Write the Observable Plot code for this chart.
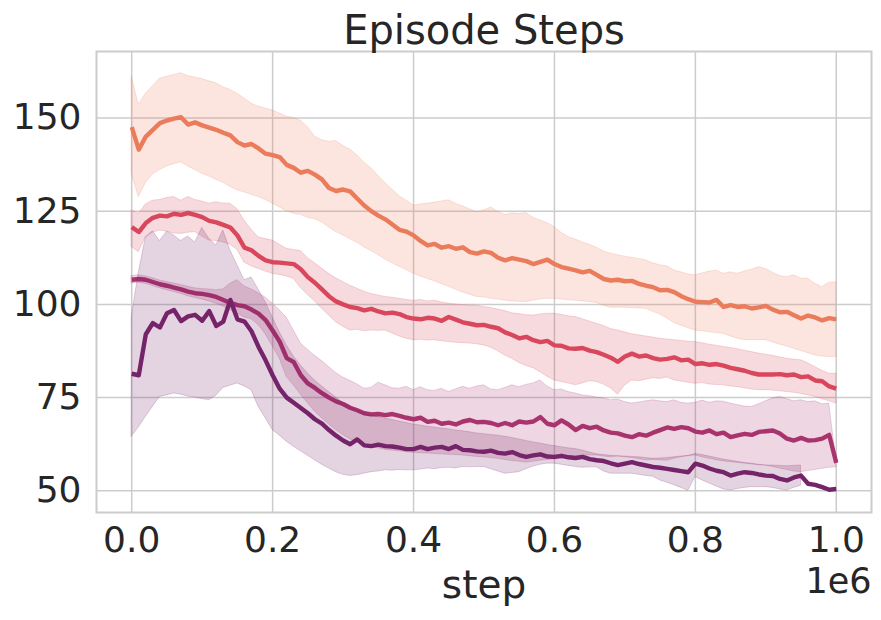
<!DOCTYPE html>
<html>
<head>
<meta charset="utf-8">
<script src="https://cdn.jsdelivr.net/npm/d3@7"></script>
<script src="https://cdn.jsdelivr.net/npm/@observablehq/plot@0.6"></script>
<style>
  html, body { margin: 0; padding: 0; background: #ffffff; }
  #chart svg { display: block; }
</style>
</head>
<body>
<div id="chart"></div>
<script>
// x positions (environment steps)
const steps = [0,10000,20000,30000,40000,50000,60000,70000,80000,90000,
100000,110000,120000,130000,140000,150000,160000,170000,180000,190000,
200000,210000,220000,230000,240000,250000,260000,270000,280000,290000,
300000,310000,320000,330000,340000,350000,360000,370000,380000,390000,
400000,410000,420000,430000,440000,450000,460000,470000,480000,490000,
500000,510000,520000,530000,540000,550000,560000,570000,580000,590000,
600000,610000,620000,630000,640000,650000,660000,670000,680000,690000,
700000,710000,720000,730000,740000,750000,760000,770000,780000,790000,
800000,810000,820000,830000,840000,850000,860000,870000,880000,890000,
900000,910000,920000,930000,940000,950000,960000,970000,980000,990000,
1000000];

const seriesNames = ["A", "B", "C", "D"];
const seriesColors = ["#ea7b5b", "#d9475c", "#a8336d", "#762469"];

const xTicks = [0, 200000, 400000, 600000, 800000, 1000000];
const yTicks = [50, 75, 100, 125, 150];

// Series A (orange)
const aMean = [147.5,141.5,145.0,146.8,148.6,149.3,149.8,150.2,148.2,148.8,
148.0,147.4,146.8,146.0,145.3,143.5,142.6,143.0,141.8,140.4,
140.0,139.5,137.4,136.6,135.3,135.8,134.8,133.5,131.2,130.4,
130.8,130.3,128.4,126.5,125.0,123.8,122.8,121.4,120.0,119.5,
118.5,117.0,115.8,116.2,115.2,115.6,114.9,115.3,114.0,113.6,
114.2,113.8,112.5,111.8,112.4,112.0,111.6,110.8,111.4,112.0,
110.8,110.0,109.6,109.1,108.6,109.0,107.9,106.8,106.4,106.6,
106.2,106.3,105.5,105.0,104.6,103.8,103.9,103.3,102.2,101.4,
100.7,100.6,100.5,101.2,99.3,99.8,99.3,99.5,98.9,99.2,
99.6,98.6,97.9,98.0,97.1,96.2,97.0,96.5,95.7,96.3,
96.0];
const aHi = [161.0,153.5,156.5,158.5,160.5,161.0,161.5,162.0,161.2,160.8,
160.4,159.8,159.3,158.2,157.5,156.5,155.2,153.8,153.0,152.5,
152.0,151.2,150.3,150.0,149.2,147.5,145.0,144.0,143.6,143.8,
142.5,141.5,140.0,138.0,136.5,134.5,132.5,130.8,129.0,127.8,
126.5,126.8,127.0,127.3,127.6,127.9,127.0,126.3,125.5,124.7,
125.2,126.0,124.8,124.0,124.4,124.2,124.5,123.2,122.5,121.8,
120.7,119.2,118.0,117.4,116.6,116.0,115.2,114.2,113.6,113.2,
112.8,112.5,112.2,111.8,111.0,110.5,110.2,109.1,108.6,108.0,
107.8,108.3,108.8,109.1,108.2,108.6,108.2,108.8,109.3,110.0,
109.5,108.5,107.6,107.3,107.8,106.9,106.9,105.5,104.6,105.8,
105.9];
const aLo = [135.0,128.8,132.5,134.8,136.0,137.0,137.6,138.1,137.0,136.0,
135.0,134.3,133.4,132.6,131.5,130.6,130.0,129.4,128.8,128.0,
127.0,126.0,124.9,124.3,124.0,123.2,122.8,122.0,120.6,119.4,
118.5,117.5,116.5,115.3,114.3,113.2,112.0,111.0,110.1,109.2,
108.2,107.5,106.8,106.2,105.4,104.7,103.9,103.2,102.6,102.0,
101.9,101.5,101.3,101.0,100.8,100.7,100.6,101.0,101.3,101.5,
101.5,101.3,101.1,101.0,100.8,100.6,100.4,99.6,99.1,99.1,
99.1,99.0,98.9,98.8,98.0,97.3,96.2,95.0,94.3,93.6,
93.0,92.8,92.5,92.3,92.1,91.4,90.8,90.4,90.4,90.4,
90.4,89.8,89.2,88.7,88.1,87.5,86.9,86.3,86.0,85.9,
85.9];

// Series B (red)
const bMean = [120.7,119.4,121.8,123.2,123.8,123.6,124.3,124.0,124.5,124.0,
123.4,122.4,122.0,121.3,120.6,118.5,115.2,114.5,113.0,111.8,
111.3,111.2,111.0,110.8,109.4,107.3,105.8,104.0,102.2,100.8,
100.0,99.3,99.0,98.4,98.8,98.1,97.6,97.8,97.4,96.6,
96.2,96.0,96.4,96.2,95.6,96.6,95.9,95.2,94.8,94.4,
94.5,94.0,93.6,92.5,91.8,90.9,91.3,90.4,89.9,90.2,
89.0,88.9,88.2,88.1,88.3,87.6,87.2,86.5,85.7,84.6,
86.0,86.8,86.0,86.3,85.6,85.2,85.4,85.8,85.0,85.2,
84.0,84.2,83.8,84.0,83.6,83.0,82.6,82.2,81.6,81.2,
81.2,81.2,81.3,81.0,81.2,80.5,80.7,79.6,79.4,78.0,
77.4];
const bHi = [125.2,124.3,126.8,127.8,128.0,128.5,128.8,127.8,128.8,128.0,
127.6,127.0,127.4,127.0,127.0,125.5,122.5,120.0,118.0,117.5,
117.1,116.0,114.9,114.6,114.3,112.4,111.0,109.6,108.2,107.0,
106.0,105.0,104.2,103.4,102.8,102.4,102.0,101.8,101.5,101.2,
101.0,101.2,100.8,101.0,100.5,100.2,100.0,99.8,99.7,99.6,
99.3,99.0,98.6,98.2,97.6,97.4,97.1,97.0,97.3,97.5,
97.5,97.2,96.8,96.6,96.0,95.4,94.8,94.2,93.4,93.0,
92.5,92.0,91.7,91.4,91.1,90.8,90.6,90.4,90.2,90.0,
89.9,89.6,89.2,88.9,88.6,88.3,88.0,87.6,87.2,86.8,
86.5,86.2,85.8,85.4,85.2,85.0,84.2,83.2,82.2,81.4,
81.4];
const bLo = [115.4,114.0,118.0,119.2,119.8,119.5,119.0,118.9,119.2,119.4,
118.2,117.1,117.0,116.6,116.0,114.6,111.2,110.2,109.5,108.8,
108.2,107.9,107.5,106.8,104.4,102.5,100.8,98.8,97.0,95.2,
94.0,93.0,93.2,92.8,93.0,92.9,93.0,92.2,91.4,90.8,
90.4,90.5,90.3,90.4,90.1,89.9,89.7,89.6,89.5,89.3,
89.0,88.4,87.4,86.3,85.4,84.3,83.5,82.9,81.8,80.6,
79.6,79.2,78.8,78.3,78.8,79.4,79.2,78.5,77.5,75.8,
78.2,79.6,79.4,79.8,80.2,80.0,80.4,79.6,79.3,79.0,
78.7,78.9,78.5,78.4,78.3,78.0,77.8,77.5,77.2,77.0,
77.0,76.9,76.7,76.5,76.3,76.0,75.6,75.2,74.6,74.0,
73.4];

// Series C (magenta)
const cMean = [106.6,106.8,106.6,106.0,105.4,105.0,104.5,104.0,103.4,103.0,
102.8,102.5,102.0,101.2,100.4,99.8,99.5,98.6,97.5,95.8,
93.0,90.0,85.6,84.5,81.0,78.8,77.6,76.2,75.0,74.0,
73.3,72.3,71.6,70.8,70.5,70.6,70.3,70.6,70.1,69.6,
69.2,69.6,68.5,68.8,68.0,68.3,67.8,68.6,69.0,68.4,
68.5,68.2,67.6,68.2,67.6,68.6,68.3,68.6,69.8,68.0,
67.6,68.9,67.8,66.3,67.4,66.8,67.2,66.2,65.6,65.4,
64.8,64.4,65.2,64.8,65.6,66.3,67.0,66.6,67.1,66.8,
65.9,65.6,66.2,65.2,65.6,64.4,64.9,65.3,65.0,65.8,
66.0,66.2,65.4,64.0,63.5,64.2,63.5,63.6,64.0,65.0,
57.5];
const cHi = [107.6,107.8,107.5,107.0,106.4,106.0,105.6,105.2,104.7,104.3,
104.1,104.0,103.8,104.0,105.5,106.5,104.8,104.0,103.0,101.8,
100.2,98.4,96.4,93.0,89.5,87.8,86.2,84.8,83.2,81.6,
80.4,79.5,78.6,77.4,77.6,79.0,78.3,77.5,77.4,77.9,
77.0,77.8,77.0,76.8,77.4,76.5,77.2,77.9,77.4,78.0,
78.3,77.2,77.0,77.6,78.3,77.8,78.4,78.8,79.6,78.0,
77.0,77.2,76.5,76.1,75.6,75.4,75.0,74.8,74.3,74.5,
73.8,73.4,73.7,74.0,74.3,74.0,73.8,74.3,73.6,73.4,
73.6,74.2,73.6,74.0,73.9,73.4,73.0,72.6,72.5,73.2,
74.0,74.8,75.2,74.6,74.0,74.3,73.8,74.0,73.2,73.4,
58.2];
const cLo = [105.6,105.8,105.5,104.9,104.3,103.8,103.3,102.8,102.2,101.7,
101.3,100.8,100.2,99.4,98.4,97.5,96.5,96.0,94.5,92.0,
88.8,85.5,80.5,78.3,75.8,73.5,71.3,69.5,67.8,66.3,
65.0,63.8,63.0,62.3,61.8,61.4,61.0,60.8,60.6,60.4,
60.2,60.1,60.0,59.9,59.8,59.7,59.6,59.5,59.3,59.1,
59.0,58.8,58.6,58.3,58.0,57.8,57.6,57.8,58.1,58.3,
58.4,58.6,58.9,59.2,59.4,59.5,59.5,59.2,59.0,59.2,
59.0,58.8,58.5,58.2,58.3,58.2,58.1,58.6,59.0,59.3,
59.5,59.0,58.6,58.2,57.9,57.7,57.5,57.3,57.1,56.9,
56.8,56.4,56.0,55.6,55.2,55.0,55.3,55.6,55.9,56.2,
56.3];

// Series D (dark purple)
const dMean = [81.4,81.0,92.0,95.0,93.8,97.6,98.5,95.5,96.8,97.2,
95.6,98.2,94.2,95.4,101.2,96.0,95.4,92.8,88.6,85.0,
81.0,77.4,75.0,73.6,72.2,70.8,69.2,68.0,66.3,64.8,
63.5,62.5,63.8,62.2,62.0,62.4,62.0,61.9,61.6,61.2,
61.2,61.8,61.2,61.6,61.8,61.2,62.0,61.0,60.9,60.6,
60.5,60.8,60.2,60.0,60.4,59.6,59.1,59.5,59.8,59.2,
59.1,59.4,59.0,58.8,59.1,58.5,58.2,58.0,57.4,56.9,
57.3,57.7,57.2,56.8,56.4,56.2,55.9,55.6,55.3,55.0,
57.3,56.8,56.0,55.4,55.0,54.1,54.6,55.0,54.8,54.4,
54.1,54.0,53.2,52.8,53.6,54.1,51.9,51.6,51.0,50.3,
50.5];
const dHi = [96.6,108.5,118.0,119.6,117.0,119.5,118.5,117.0,118.2,116.6,
120.5,117.6,115.8,119.8,114.5,110.5,106.5,107.2,104.0,100.6,
96.5,92.5,89.0,86.0,83.6,81.5,79.6,78.0,76.5,75.0,
73.6,72.4,71.6,70.8,70.2,69.8,69.4,69.0,68.6,68.2,
67.8,67.5,67.2,67.0,66.7,66.5,66.2,66.0,65.7,65.4,
65.2,65.0,64.8,64.5,64.2,63.8,63.4,63.0,62.7,62.3,
62.0,61.7,61.4,61.2,60.8,60.3,59.8,59.6,59.4,59.3,
59.2,59.1,59.0,58.8,58.6,58.7,58.8,59.0,59.2,59.4,
59.9,59.6,59.2,58.8,58.4,58.1,57.8,57.5,57.3,57.0,
56.8,56.8,56.7,56.6,56.7,56.8,null,null,null,null,
null];
const dLo = [64.5,67.0,69.8,72.5,75.2,75.6,76.1,75.8,75.3,75.0,
74.6,74.3,75.5,77.6,78.2,78.8,78.0,77.0,72.5,69.5,
66.3,64.8,63.2,61.8,60.6,59.4,58.2,57.0,56.0,55.0,
54.3,54.0,54.2,54.6,55.0,55.2,55.5,55.4,55.6,55.5,
55.5,55.7,56.0,55.8,56.1,56.2,56.0,56.4,56.3,56.4,
56.4,55.8,55.2,54.6,54.8,55.0,55.8,56.5,57.0,57.3,
57.3,57.0,56.7,56.4,56.2,56.3,56.3,55.2,54.6,54.6,
54.6,54.6,54.3,54.0,53.8,52.8,52.2,51.5,50.8,50.0,
53.7,52.8,52.0,51.2,50.4,50.1,50.5,50.8,51.0,51.0,
51.0,50.8,50.4,50.1,50.8,51.4,null,null,null,null,
null];

const means = [aMean, bMean, cMean, dMean];
const his = [aHi, bHi, cHi, dHi];
const los = [aLo, bLo, cLo, dLo];

const tables = seriesNames.map((name, k) =>
  steps.map((s, i) => ({step: s, mean: means[k][i], hi: his[k][i], lo: los[k][i]}))
);

const font = "DejaVu Sans, Liberation Sans, sans-serif";
const ink = "#262626";

const marks = [
  Plot.ruleX(xTicks, {stroke: "#cccccc", strokeWidth: 1.5}),
  Plot.ruleY(yTicks, {stroke: "#cccccc", strokeWidth: 1.5}),
];
tables.forEach((rows, k) => {
  marks.push(Plot.areaY(rows, {
    x: "step", y1: "lo", y2: "hi",
    fill: seriesColors[k], fillOpacity: 0.2,
    stroke: seriesColors[k], strokeOpacity: 0.2, strokeWidth: 1,
    curve: "linear"
  }));
  marks.push(Plot.lineY(rows, {
    x: "step", y: "mean",
    stroke: seriesColors[k], strokeWidth: 4.4,
    strokeLinejoin: "round", strokeLinecap: "butt"
  }));
});
marks.push(Plot.frame({stroke: "#cccccc", strokeWidth: 2}));
marks.push(Plot.text(["Episode Steps"], {frameAnchor: "top", lineAnchor: "middle", dy: -20, fontSize: 40, fill: ink}));
marks.push(Plot.text(["step"], {frameAnchor: "bottom", lineAnchor: "middle", dy: 73, fontSize: 39, fill: ink}));
marks.push(Plot.text(["1e6"], {frameAnchor: "bottom-right", lineAnchor: "middle", dy: 69, textAnchor: "end", fontSize: 35, fill: ink}));

const chart = Plot.plot({
  width: 881,
  height: 620,
  marginLeft: 96,
  marginRight: 10,
  marginTop: 51,
  marginBottom: 108,
  style: {fontFamily: font, fontSize: "36px", color: ink, background: "#ffffff", overflow: "visible"},
  x: {
    domain: [-50000, 1050000],
    ticks: xTicks,
    tickFormat: d => (d / 1e6).toFixed(1),
    tickSize: 0,
    tickPadding: 14,
    label: null
  },
  y: {
    domain: [44.2, 167.8],
    ticks: yTicks,
    tickSize: 0,
    tickPadding: 15,
    label: null
  },
  marks
});
document.getElementById("chart").appendChild(chart);
</script>
</body>
</html>
